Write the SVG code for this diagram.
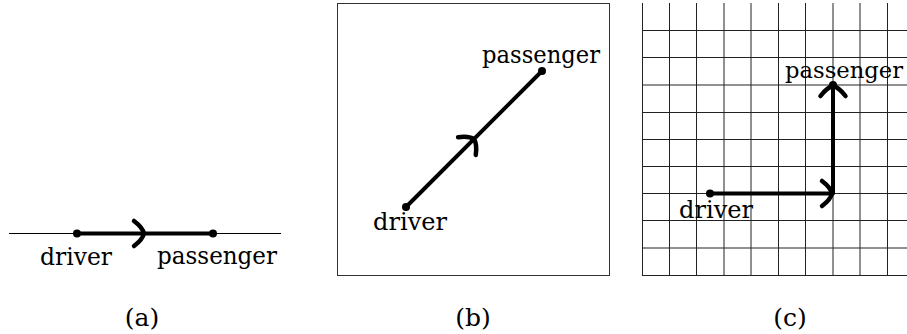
<svg xmlns="http://www.w3.org/2000/svg" width="907" height="334" viewBox="0 0 907 334">
<style>
text{font-family:'DejaVu Serif','Liberation Serif',serif;font-size:25px;fill:#000}
.thin{stroke:#000;stroke-width:1;fill:none}
.grid{stroke:#222;stroke-width:1;fill:none}
.path{stroke:#000;stroke-width:4;fill:none;stroke-linecap:round;stroke-linejoin:round}
.arr{stroke:#000;stroke-width:4.5;fill:none;stroke-linecap:round}
</style>
<defs>
<path id="ah" class="arr" d="M -10,-12.5 C -6,-9.5 -1,-4 0,0 C -1,4 -6,9.5 -10,12.5"/>
</defs>
<g id="panel-a">
  <line class="thin" x1="9" y1="233.5" x2="281" y2="233.5"/>
  <g id="a-connectors">
    <line class="path" x1="77" y1="233.5" x2="213" y2="233.5"/>
    <use href="#ah" transform="translate(144,233.5)"/>
  </g>
  <g id="a-driver"><circle cx="77" cy="233.5" r="4"/><text x="40" y="265" textLength="72" lengthAdjust="spacingAndGlyphs">driver</text></g>
  <g id="a-passenger"><circle cx="213" cy="233.5" r="4"/><text x="157" y="264" textLength="120" lengthAdjust="spacingAndGlyphs">passenger</text></g>
  <text x="142" y="326" text-anchor="middle">(a)</text>
</g>
<g id="panel-b">
  <rect x="337.5" y="3.5" width="272" height="272" fill="none" stroke="#333" stroke-width="1"/>
  <g id="b-connectors">
    <line class="path" x1="406" y1="207" x2="542" y2="71"/>
    <use href="#ah" transform="translate(474,139) rotate(-45)"/>
  </g>
  <g id="b-driver"><circle cx="406" cy="207" r="4"/><text x="373" y="230" textLength="74" lengthAdjust="spacingAndGlyphs">driver</text></g>
  <g id="b-passenger"><circle cx="542" cy="71" r="4"/><text x="482" y="63" textLength="118" lengthAdjust="spacingAndGlyphs">passenger</text></g>
  <text x="473" y="326" text-anchor="middle">(b)</text>
</g>
<g id="panel-c">
  <g id="grid">
    <path class="grid" d="M642.5,3 V275.5 M669.5,3 V275.5 M696.5,3 V275.5 M724,3 V275.5 M751,3 V275.5 M778.5,3 V275.5 M805.5,3 V275.5 M833,3 V275.5 M860,3 V275.5 M887.5,3 V275.5"/>
    <path class="grid" d="M642,30.5 H907 M642,57.5 H907 M642,85 H907 M642,112.5 H907 M642,139.5 H907 M642,166.5 H907 M642,193.5 H907 M642,220.5 H907 M642,248 H907 M642,275.5 H907"/>
  </g>
  <g id="c-connectors">
    <polyline class="path" points="710,193.5 833,193.5 833,85"/>
    <use href="#ah" transform="translate(832,193.5)"/>
    <use href="#ah" transform="translate(833,86) rotate(-90)"/>
  </g>
  <g id="c-driver"><circle cx="710" cy="193.5" r="4"/><text x="679" y="218" textLength="74" lengthAdjust="spacingAndGlyphs">driver</text></g>
  <g id="c-passenger"><circle cx="833" cy="85" r="4"/><text x="785" y="78" style="font-size:23px" textLength="118" lengthAdjust="spacingAndGlyphs">passenger</text></g>
  <text x="790" y="326" text-anchor="middle">(c)</text>
</g>
</svg>
